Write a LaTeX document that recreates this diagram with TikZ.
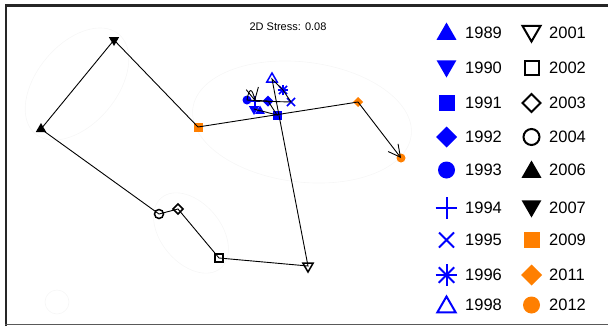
\documentclass[tikz,border=0pt]{standalone}
\usepackage{fontspec}
\setmainfont{Liberation Sans}
\usepackage{xcolor}
\usepackage{tikz}
\usetikzlibrary{shapes.geometric,shapes.misc,arrows.meta}
\definecolor{myblue}{RGB}{0,0,255}
\definecolor{myorange}{RGB}{255,127,0}

\begin{document}
\begin{tikzpicture}[x=1pt, y=-1pt,
                          mk/.style={inner sep=0pt, outer sep=0pt},
                          uptri/.style={mk, regular polygon, regular polygon sides=3, minimum size=#1},
                          dntri/.style={uptri=#1, shape border rotate=180},
                          sqr/.style={mk, rectangle, minimum size=#1},
                          dmd/.style={mk, diamond, minimum size=#1},
                          circmk/.style={mk, circle, minimum size=#1},
                          xmk/.style={mk, cross out, draw, minimum size=#1},
                          plusmk/.style={xmk=#1, rotate=45},
                          solidb/.style={fill=myblue},
                          solido/.style={fill=myorange},
                          solidk/.style={fill=black},
                          openk/.style={draw=black, line width=1.5pt},
                          openb/.style={draw=myblue, line width=1.5pt},
                          lopen/.style={line width=2pt},
                          conn/.style={line width=0.9pt, black},
                          barb/.style={-{Straight Barb[length=12pt, width=12.5pt]}},
                          ring/.style={gray!7, line width=0.6pt},
                          yearlab/.style={anchor=west, inner sep=0pt, font=\fontsize{16.5}{18}\selectfont},
                         ]

\useasboundingbox (0,0) rectangle (608,327);

% frame
\draw[line width=2.4pt, black!85] (6,326) -- (6,5.5) -- (608,5.5);
\draw[line width=1.8pt, black!65] (5,324.5) -- (608,324.5);

\node (stress) at (288,26.5) {\fontsize{11}{12}\selectfont 2D Stress: 0.08};

% faint ellipses
\draw[ring, rotate around={50:(77,84)}] (77,84) ellipse (65 and 40);
\draw[ring, rotate around={-7:(302,122)}] (302,122) ellipse (110 and 60);
\draw[ring, rotate around={-50:(191,233)}] (191,233) ellipse (46 and 30);
\draw[ring] (57,302) circle (12);

% points
\node[uptri=11, solidb] (p1989) at (260,111) {};
\node[dntri=12, solidb] (p1990) at (254,109) {};
\node[sqr=9, solidb] (p1991) at (277,115) {};
\node[dmd=11, solidb] (p1992) at (268,101) {};
\node[circmk=9, solidb] (p1993) at (247,100) {};
\node[plusmk=7.5, draw=myblue, line width=1.5pt] (p1994) at (255,101) {};
\node[xmk=8, draw=myblue, line width=1.5pt] (p1995) at (291,102) {};
\node[plusmk=7.5, draw=myblue, line width=1.5pt] (p1996) at (283,90) {};
\node[xmk=8, draw=myblue, line width=1.5pt] (p1996x) at (283,90) {};
\node[uptri=12, openb] (p1998) at (272,79) {};
\node[dntri=12, openk] (p2001) at (308,266) {};
\node[sqr=8, openk] (p2002) at (219,258) {};
\node[dmd=10, openk] (p2003) at (178,209) {};
\node[circmk=9, openk] (p2004) at (159,214) {};
\node[uptri=12, solidk] (p2006) at (41,129) {};
\node[dntri=12, solidk] (p2007) at (114,40) {};
\node[sqr=9, solido] (p2009) at (198,127) {};
\node[dmd=10, solido] (p2011) at (358,102) {};
\node[circmk=9, solido] (p2012) at (401,158) {};

% trajectory
\draw[conn] (p1989.center) -- (p1990.center) -- (p1991.center) -- (p1992.center) -- (p1993.center);
\draw[conn, barb] (p1993.center) .. controls +(2,-12) and +(-3,-14) .. (p1994.center);
\draw[conn] (p1994.center) -- (p1995.center) -- (p1996.center) -- (p1998.center) -- (p2001.center)
            -- (p2002.center) -- (p2003.center) -- (p2004.center) -- (p2006.center) -- (p2007.center)
            -- (p2009.center) -- (p2011.center);
\draw[conn, barb] (p2011.center) -- (p2012.center);

% legend
\node[uptri=23, solidb] (l1989) at (446.5,34) {};
\node[dntri=23, solidb] (l1990) at (446.5,66) {};
\node[sqr=16, solidb] (l1991) at (446.5,103) {};
\node[dmd=21, solidb] (l1992) at (446.5,137) {};
\node[circmk=17, solidb] (l1993) at (446.5,170) {};
\node[plusmk=15.5, draw=myblue, lopen] (l1994) at (446.5,208) {};
\node[xmk=15, draw=myblue, lopen] (l1995) at (446.5,240) {};
\node[plusmk=15.5, draw=myblue, lopen] (l1996) at (446.5,275) {};
\node[xmk=15.5, draw=myblue, lopen] (l1996x) at (446.5,275) {};
\node[uptri=21, draw=myblue, lopen] (l1998) at (446.5,307) {};

\node[dntri=21, draw=black, lopen] (l2001) at (531.5,31) {};
\node[sqr=14, draw=black, lopen] (l2002) at (531.5,68) {};
\node[dmd=18, draw=black, lopen] (l2003) at (531.5,103) {};
\node[circmk=16, draw=black, lopen] (l2004) at (531.5,137) {};
\node[uptri=23, solidk] (l2006) at (531.5,172) {};
\node[dntri=23, solidk] (l2007) at (531.5,206) {};
\node[sqr=16, solido] (l2009) at (531.5,240) {};
\node[dmd=21, solido] (l2011) at (531.5,275) {};
\node[circmk=17, solido] (l2012) at (531.5,305) {};

\node[yearlab] (t1989) at (465,33) {1989};
\node[yearlab] (t1990) at (465,68) {1990};
\node[yearlab] (t1991) at (465,103) {1991};
\node[yearlab] (t1992) at (465,137) {1992};
\node[yearlab] (t1993) at (465,170) {1993};
\node[yearlab] (t1994) at (465,208) {1994};
\node[yearlab] (t1995) at (465,240) {1995};
\node[yearlab] (t1996) at (465,275) {1996};
\node[yearlab] (t1998) at (465,305) {1998};

\node[yearlab] (t2001) at (549,33) {2001};
\node[yearlab] (t2002) at (549,68) {2002};
\node[yearlab] (t2003) at (549,103) {2003};
\node[yearlab] (t2004) at (549,137) {2004};
\node[yearlab] (t2006) at (549,170) {2006};
\node[yearlab] (t2007) at (549,208) {2007};
\node[yearlab] (t2009) at (549,240) {2009};
\node[yearlab] (t2011) at (549,275) {2011};
\node[yearlab] (t2012) at (549,305) {2012};

\end{tikzpicture}
\end{document}
